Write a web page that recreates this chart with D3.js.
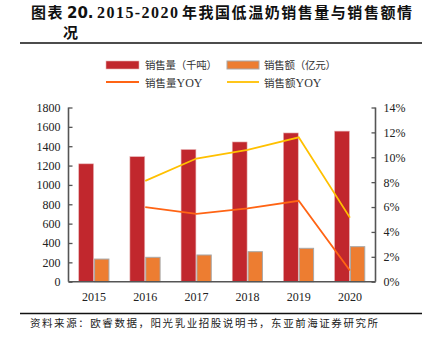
<!DOCTYPE html>
<html><head><meta charset="utf-8">
<script src="https://cdn.jsdelivr.net/npm/d3@7"></script>
<style>body{margin:0;background:#fff}svg{display:block}</style>
</head><body>
<svg id="c" width="428" height="350"></svg>
<script>
const years = ["2015","2016","2017","2018","2019","2020"];
const volume = [1218, 1292, 1366, 1444, 1537, 1556];      // 销售量（千吨）
const value = [234, 252, 276, 310, 345, 362];             // 销售额（亿元）
const volumeYoy = [null, 6.0, 5.45, 5.9, 6.5, 0.9];      // %
const valueYoy = [null, 8.1, 9.9, 10.6, 11.6, 5.15];     // %
const leftTicks = [0,200,400,600,800,1000,1200,1400,1600,1800];
const rightTicks = [0,2,4,6,8,10,12,14];

const svg = d3.select("#c");
const L = 68.5, R = 375.5, T = 107.5, B = 281.7;
const cjk = "'Noto Sans CJK SC', sans-serif";
const serif = "'Liberation Serif', 'Times New Roman', serif";
const cRed = "#C1272D", cOrange = "#ED7D31", cLine1 = "#FF6414", cLine2 = "#FFC000";

// title
const tg = svg.append("g").attr("font-size", 15).attr("font-weight", "bold").attr("fill", "#111");
tg.append("text").attr("x", 31).attr("y", 18).attr("font-family", cjk).attr("letter-spacing", 1.5).text("图表");
tg.append("text").attr("x", 67).attr("y", 18).attr("font-family", "'DejaVu Sans', sans-serif").text("20.");
tg.append("text").attr("x", 97).attr("y", 18).attr("font-family", serif).attr("font-size", 16)
  .attr("textLength", 81).attr("lengthAdjust", "spacing").text("2015-2020");
tg.append("text").attr("x", 182).attr("y", 18).attr("font-family", cjk)
  .attr("textLength", 230).attr("lengthAdjust", "spacing").text("年我国低温奶销售量与销售额情");
tg.append("text").attr("x", 63).attr("y", 38).attr("font-family", cjk).text("况");
svg.append("line").attr("x1", 20).attr("x2", 422).attr("y1", 43).attr("y2", 43).attr("stroke", "#111").attr("stroke-width", 1.6);

// footer
svg.append("line").attr("x1", 20).attr("x2", 422).attr("y1", 313.5).attr("y2", 313.5).attr("stroke", "#111").attr("stroke-width", 1.6);
svg.append("text").attr("x", 30).attr("y", 327).attr("font-size", 10.5).attr("font-family", cjk).attr("fill", "#222")
  .attr("textLength", 348).attr("lengthAdjust", "spacing")
  .text("资料来源：欧睿数据，阳光乳业招股说明书，东亚前海证券研究所");

// scales
const x = d3.scaleBand().domain(years).range([L, R]).paddingInner(0).paddingOuter(0);
const yL = d3.scaleLinear().domain([0, 1800]).range([B, T]);
const yR = d3.scaleLinear().domain([0, 14]).range([B, T]);
const bw = x.bandwidth() * 0.3;

// bars
const g = svg.append("g");
g.selectAll("rect.vol").data(years).join("rect").attr("class", "vol")
  .attr("x", d => x(d) + x.bandwidth()/2 - bw).attr("width", bw - 0.5)
  .attr("y", (d,i) => yL(volume[i])).attr("height", (d,i) => B - yL(volume[i]))
  .attr("fill", cRed).attr("stroke", "#E8B4B6").attr("stroke-width", 0.6);
g.selectAll("rect.val").data(years).join("rect").attr("class", "val")
  .attr("x", d => x(d) + x.bandwidth()/2 + 0.5).attr("width", bw - 1)
  .attr("y", (d,i) => yL(value[i])).attr("height", (d,i) => B - yL(value[i]))
  .attr("fill", cOrange).attr("stroke", "#A8A8A8").attr("stroke-width", 1);

// lines
const line = d3.line().defined(d => d[1] != null).x(d => x(d[0]) + x.bandwidth()/2).y(d => yR(d[1]));
svg.append("path").datum(years.map((d,i) => [d, volumeYoy[i]])).attr("d", line)
  .attr("fill", "none").attr("stroke", cLine1).attr("stroke-width", 1.8);
svg.append("path").datum(years.map((d,i) => [d, valueYoy[i]])).attr("d", line)
  .attr("fill", "none").attr("stroke", cLine2).attr("stroke-width", 1.8);

// axes
const axL = svg.append("g").attr("transform", `translate(${L},0)`)
  .call(d3.axisRight(yL).tickValues(leftTicks).tickSize(4).tickFormat(d3.format("d")));
axL.selectAll("text").attr("x", -8).attr("text-anchor", "end");
const axR = svg.append("g").attr("transform", `translate(${R},0)`)
  .call(d3.axisLeft(yR).tickValues(rightTicks).tickSize(4).tickFormat(d => d + "%"));
axR.selectAll("text").attr("x", 8).attr("text-anchor", "start");
const axB = svg.append("g").attr("transform", `translate(0,${B})`)
  .call(d3.axisBottom(x).tickSize(0).tickPadding(11));
[axL, axR, axB].forEach(a => {
  a.select(".domain").attr("stroke", "#555").attr("stroke-width", 1.6);
  a.selectAll(".tick line").attr("stroke", "#555").attr("stroke-width", 1.3);
  a.selectAll("text").attr("font-family", serif).attr("font-size", 12).attr("fill", "#222");
});
axL.select(".domain").attr("d", `M0,${T}V${B}`);
axR.select(".domain").attr("d", `M0,${T}V${B}`);
axB.select(".domain").attr("d", `M${L},0H${R}`);

// legend
const lg = svg.append("g").attr("font-family", cjk).attr("font-size", 10.5).attr("fill", "#333");
lg.append("rect").attr("x", 106).attr("y", 61).attr("width", 33).attr("height", 8).attr("fill", cRed).attr("stroke", "#E8B4B6").attr("stroke-width", 0.6);
lg.append("text").attr("x", 145).attr("y", 69).attr("textLength", 72).attr("lengthAdjust", "spacing").text("销售量（千吨）");
lg.append("rect").attr("x", 227).attr("y", 61).attr("width", 32).attr("height", 8).attr("fill", cOrange).attr("stroke", "#A8A8A8").attr("stroke-width", 1);
lg.append("text").attr("x", 264).attr("y", 69).attr("textLength", 72).attr("lengthAdjust", "spacing").text("销售额（亿元）");
lg.append("line").attr("x1", 106).attr("x2", 139).attr("y1", 82).attr("y2", 82).attr("stroke", cLine1).attr("stroke-width", 1.8);
const l3 = lg.append("text").attr("x", 145).attr("y", 86.5);
l3.append("tspan").text("销售量");
l3.append("tspan").attr("font-family", serif).attr("font-size", 12).text("YOY");
lg.append("line").attr("x1", 227).attr("x2", 259).attr("y1", 82).attr("y2", 82).attr("stroke", cLine2).attr("stroke-width", 1.8);
const l4 = lg.append("text").attr("x", 264).attr("y", 86.5);
l4.append("tspan").text("销售额");
l4.append("tspan").attr("font-family", serif).attr("font-size", 12).text("YOY");
</script>
</body></html>
